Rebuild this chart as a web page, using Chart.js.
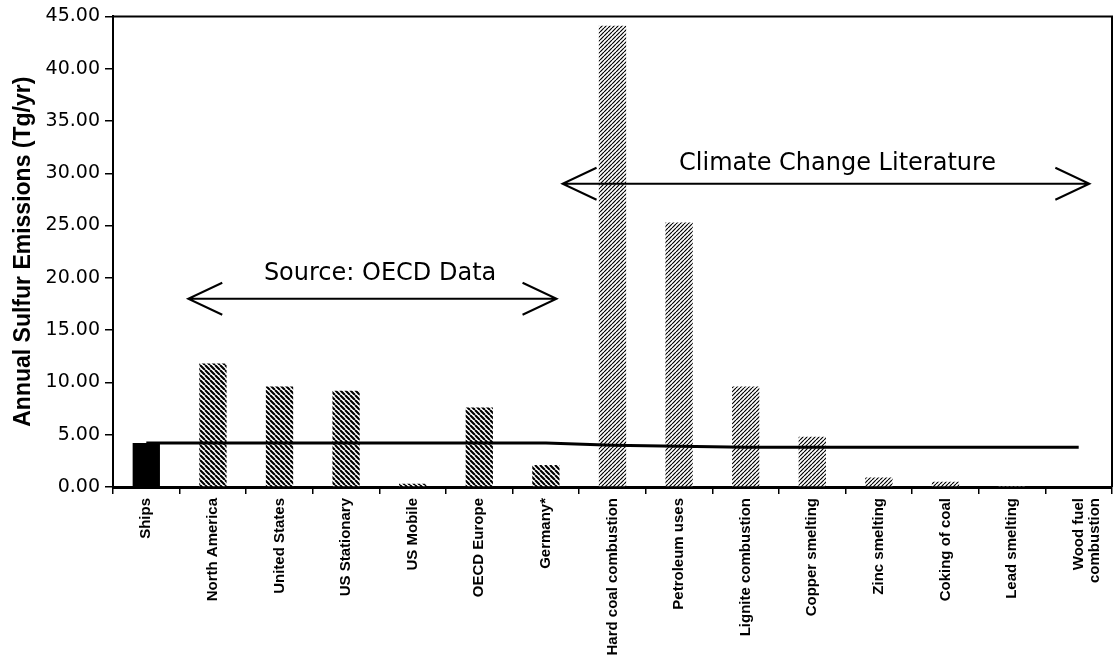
<!DOCTYPE html>
<html>
<head>
<meta charset="utf-8">
<script src="https://cdn.jsdelivr.net/npm/chart.js@4/dist/chart.umd.min.js"></script>
<style>
  html, body { margin: 0; padding: 0; background: #fff; }
  canvas { display: block; }
</style>
</head>
<body>
<canvas id="chart" width="1116" height="671"></canvas>
<script>
const categories = [
  'Ships', 'North America', 'United States', 'US Stationary', 'US Mobile',
  'OECD Europe', 'Germany*', 'Hard coal combustion', 'Petroleum uses',
  'Lignite combustion', 'Copper smelting', 'Zinc smelting', 'Coking of coal',
  'Lead smelting', ['Wood fuel', 'combustion']
];
// annual sulfur emissions, Tg/yr
const emissions = [4.2, 11.8, 9.6, 9.2, 0.3, 7.6, 2.1, 44.1, 25.3, 9.6, 4.8, 0.9, 0.5, 0.1, 0.0];
// which source each bar comes from
const sources = ['Ships', 'OECD', 'OECD', 'OECD', 'OECD', 'OECD', 'OECD',
  'Literature', 'Literature', 'Literature', 'Literature', 'Literature', 'Literature', 'Literature', 'Literature'];
// ships level carried across the chart (the line sags a little to the right)
const shipsLevel = [4.2, 4.2, 4.2, 4.2, 4.2, 4.2, 4.2, 4.0, 3.9, 3.8, 3.8, 3.8, 3.8, 3.8, 3.8];

const spans = [
  { text: 'Source: OECD Data', from: 0.63, to: 6.16, y: 18.0, textX: 3.51, textY: 20.4 },
  { text: 'Climate Change Literature', from: 6.25, to: 14.16, y: 29.0, textX: 10.38, textY: 30.9 }
];

const canvas = document.getElementById('chart');
const ctx = canvas.getContext('2d');

function hatch(size, lw, back) {
  const c = document.createElement('canvas');
  c.width = c.height = size;
  const g = c.getContext('2d');
  g.fillStyle = '#fff';
  g.fillRect(0, 0, size, size);
  g.strokeStyle = '#000';
  g.lineWidth = lw;
  g.beginPath();
  for (let k = -1; k <= 1; k++) {
    if (back) { g.moveTo(k * size, 0); g.lineTo(k * size + size, size); }
    else { g.moveTo(k * size, size); g.lineTo(k * size + size, 0); }
  }
  g.stroke();
  return ctx.createPattern(c, 'repeat');
}

const fills = {
  Ships: '#000',
  OECD: hatch(5, 2.1, true),
  Literature: hatch(4, 1.2, false)
};

const annotations = {
  id: 'annotations',
  afterDatasetsDraw(chart) {
    const { ctx, chartArea: a, scales: { x, y } } = chart;
    ctx.save();
    ctx.strokeStyle = '#000';
    ctx.lineWidth = 2;
    ctx.beginPath();
    ctx.moveTo(a.left, a.top);
    ctx.lineTo(a.right, a.top);
    ctx.lineTo(a.right, a.bottom);
    ctx.stroke();

    spans.forEach(s => {
      const x1 = x.getPixelForValue(s.from);
      const x2 = x.getPixelForValue(s.to);
      const yy = y.getPixelForValue(s.y);
      ctx.lineWidth = 2;
      ctx.beginPath();
      ctx.moveTo(x1, yy); ctx.lineTo(x2, yy);
      ctx.moveTo(x1 + 34, yy - 16); ctx.lineTo(x1, yy); ctx.lineTo(x1 + 34, yy + 16);
      ctx.moveTo(x2 - 34, yy - 16); ctx.lineTo(x2, yy); ctx.lineTo(x2 - 34, yy + 16);
      ctx.stroke();
      ctx.font = '24px "DejaVu Sans"';
      ctx.fillStyle = '#000';
      ctx.textAlign = 'center';
      ctx.textBaseline = 'middle';
      ctx.fillText(s.text, x.getPixelForValue(s.textX), y.getPixelForValue(s.textY));
    });
    ctx.restore();
  }
};

new Chart(ctx, {
  type: 'bar',
  data: {
    labels: categories,
    datasets: [
      {
        type: 'line',
        label: 'Ships level',
        data: shipsLevel,
        borderColor: '#000',
        borderWidth: 3,
        pointRadius: 0,
        fill: false,
        tension: 0,
        order: 0
      },
      {
        label: 'Annual Sulfur Emissions',
        data: emissions,
        backgroundColor: sources.map(s => fills[s]),
        borderWidth: 0,
        barPercentage: 0.41,
        categoryPercentage: 1,
        order: 1
      }
    ]
  },
  options: {
    responsive: false,
    animation: false,
    devicePixelRatio: 1,
    layout: { padding: { top: 16, right: 4, left: 0, bottom: 0 } },
    plugins: {
      legend: { display: false },
      tooltip: { enabled: false }
    },
    scales: {
      x: {
        afterFit: (scale) => { scale.height = 184; },
        grid: { drawOnChartArea: false, drawTicks: true, tickLength: 7, color: '#000', lineWidth: 1.5 },
        border: { color: '#000', width: 3 },
        ticks: {
          autoSkip: false,
          maxRotation: 90,
          minRotation: 90,
          padding: 4,
          color: '#000',
          font: { family: '"Liberation Sans", Arial, sans-serif', size: 15, weight: 'bold', lineHeight: 1.05 }
        }
      },
      y: {
        min: 0,
        max: 45,
        afterFit: (scale) => { scale.width = 113; },
        grid: { drawOnChartArea: false, drawTicks: true, tickLength: 8, color: '#000', lineWidth: 1.5 },
        border: { color: '#000', width: 2 },
        ticks: {
          stepSize: 5,
          padding: 5,
          color: '#000',
          font: { family: '"DejaVu Sans", sans-serif', size: 19 },
          callback: (v) => Number(v).toFixed(2)
        },
        title: {
          display: true,
          text: 'Annual Sulfur Emissions (Tg/yr)',
          color: '#000',
          padding: { top: 10, bottom: 0 },
          font: { family: '"Liberation Sans", Arial, sans-serif', size: 23, weight: 'bold' }
        }
      }
    }
  },
  plugins: [annotations]
});
</script>
</body>
</html>
